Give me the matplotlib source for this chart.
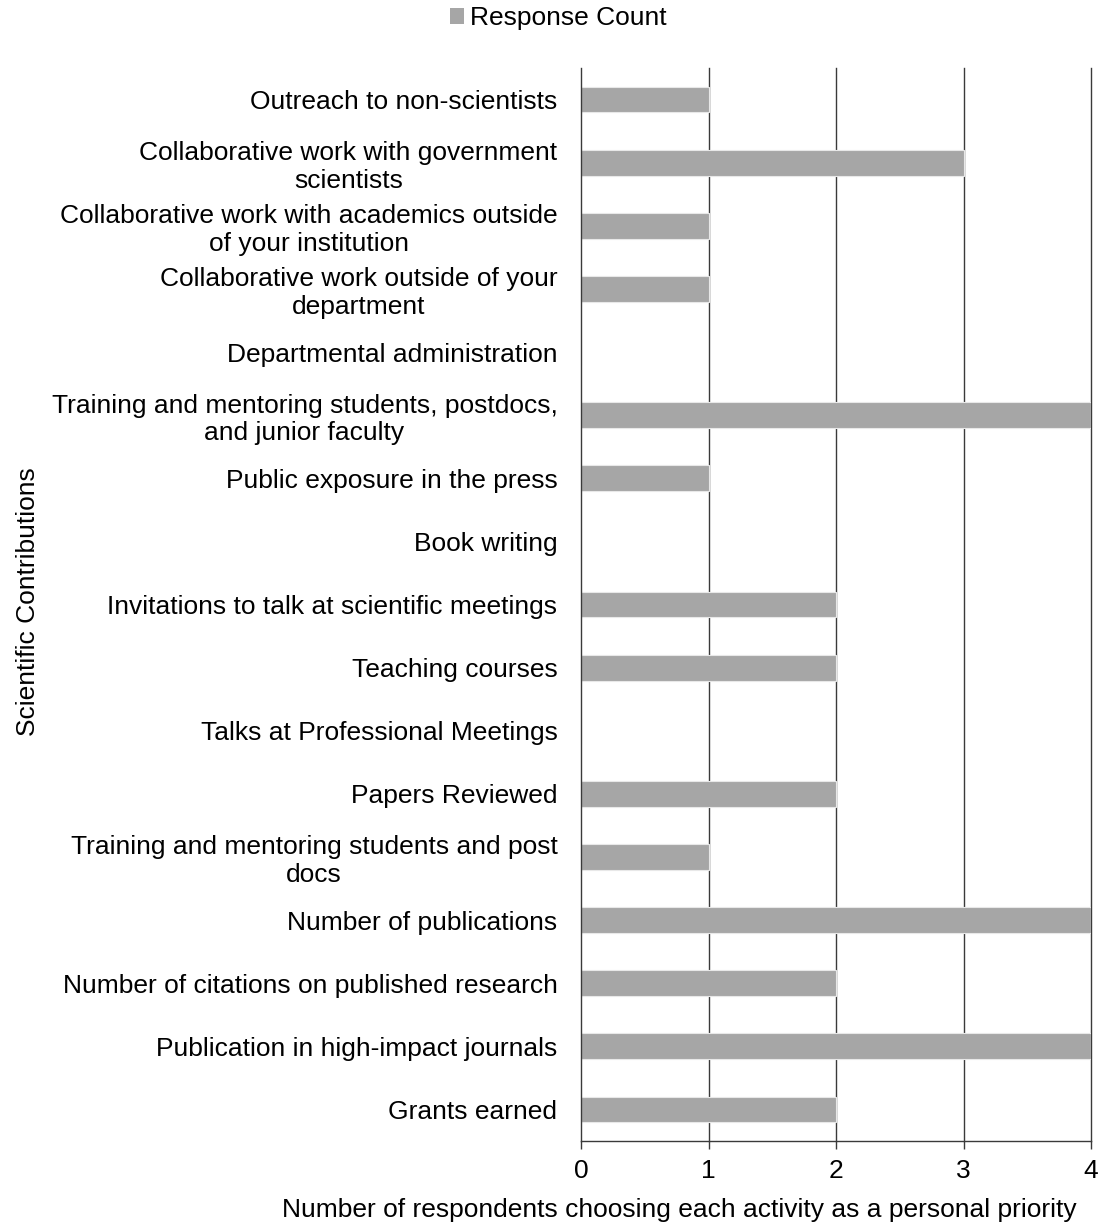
import matplotlib
matplotlib.use("Agg")
import matplotlib.pyplot as plt
from matplotlib.patches import Patch

categories = [
    "Outreach to non-scientists",
    "Collaborative work with government\nscientists",
    "Collaborative work with academics outside\nof your institution",
    "Collaborative work outside of your\ndepartment",
    "Departmental administration",
    "Training and mentoring students, postdocs,\nand junior faculty",
    "Public exposure in the press",
    "Book writing",
    "Invitations to talk at scientific meetings",
    "Teaching courses",
    "Talks at Professional Meetings",
    "Papers Reviewed",
    "Training and mentoring students and post\ndocs",
    "Number of publications",
    "Number of citations on published research",
    "Publication in high-impact journals",
    "Grants earned",
]
response_count = [1, 3, 1, 1, 0, 4, 1, 0, 2, 2, 0, 2, 1, 4, 2, 4, 2]
x_ticks = [0, 1, 2, 3, 4]

plt.rcParams["font.family"] = ["Liberation Sans", "DejaVu Sans"]
FS = 19
BAR = "#a6a6a6"
LINE = "#3a3a3a"

fig = plt.figure(figsize=(11.04, 12.32), dpi=100)
ax = fig.add_axes([581 / 1104, 91 / 1232, (1091 - 581) / 1104, (1141 - 68) / 1232])

n = len(categories)
ypos = list(range(n))
ax.barh(ypos, response_count, height=0.41, color=BAR, edgecolor="#e8e8e8",
        linewidth=0.8, zorder=2)

ax.set_ylim(n - 0.5, -0.5)
ax.set_xlim(0, 4)
ax.set_xticks(x_ticks)
ax.set_xticklabels([str(t) for t in x_ticks], fontsize=FS)
ax.set_yticks(ypos)
ax.set_yticklabels(categories, fontsize=FS, multialignment="center", linespacing=1.2)
ax.tick_params(axis="y", length=0, pad=17)
ax.tick_params(axis="x", length=6, width=1, color=LINE, pad=7, direction="out")

for t in x_ticks[1:]:
    ax.axvline(t, color=LINE, linewidth=1, zorder=1, clip_on=False)

for side in ("top", "right"):
    ax.spines[side].set_visible(False)
for side in ("left", "bottom"):
    ax.spines[side].set_color(LINE)
    ax.spines[side].set_linewidth(1)

fig.text(28 / 1104, 1 - 602 / 1232, "Scientific Contributions", rotation=90,
         fontsize=FS, ha="center", va="center")
fig.text(679 / 1104, 1 - 1210 / 1232,
         "Number of respondents choosing each activity as a personal priority",
         fontsize=FS, ha="center", va="center")

handle = Patch(facecolor=BAR, edgecolor="none")
fig.legend([handle], ["Response Count"], loc="center", bbox_to_anchor=(558 / 1104, 1 - 18 / 1232),
           frameon=False, fontsize=FS, handlelength=0.55, handleheight=0.55,
           handletextpad=0.2, borderaxespad=0)

fig.savefig("out.png", dpi=100)
